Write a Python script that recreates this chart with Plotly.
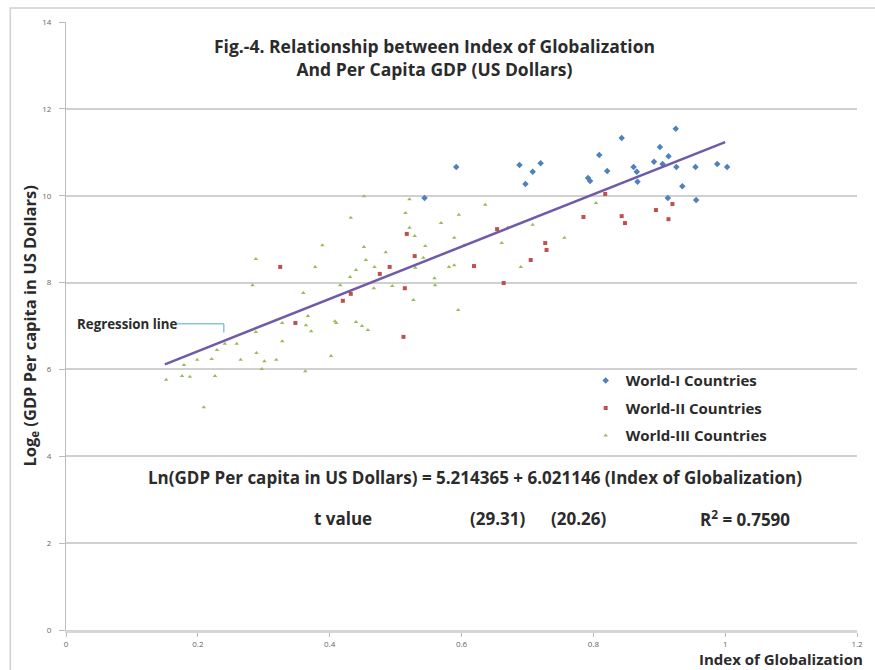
import plotly.graph_objects as go

# ---- data ----
w1_x = [0.544, 0.592, 0.688, 0.697, 0.708, 0.720, 0.792, 0.795, 0.809, 0.821, 0.843, 0.861, 0.866,
        0.867, 0.892, 0.901, 0.905, 0.914, 0.925, 0.926, 0.913, 0.935, 0.955, 0.956, 0.988, 1.003]
w1_y = [9.95, 10.66, 10.71, 10.27, 10.55, 10.75, 10.41, 10.34, 10.94, 10.57, 11.33, 10.66, 10.55,
        10.32, 10.78, 11.12, 10.73, 10.91, 11.54, 10.66, 9.95, 10.22, 10.66, 9.90, 10.73, 10.66]

w2_x = [0.325, 0.348, 0.420, 0.432, 0.476, 0.491, 0.514, 0.517, 0.529, 0.512, 0.619, 0.654, 0.664,
        0.705, 0.727, 0.729, 0.785, 0.818, 0.843, 0.848, 0.895, 0.914, 0.920]
w2_y = [8.36, 7.07, 7.58, 7.74, 8.20, 8.36, 7.87, 9.12, 8.61, 6.75, 8.38, 9.23, 7.99,
        8.52, 8.91, 8.75, 9.51, 10.04, 9.53, 9.37, 9.67, 9.46, 9.81]

w3_x = [0.152, 0.176, 0.188, 0.179, 0.199, 0.209, 0.221, 0.226, 0.229, 0.241, 0.259, 0.265, 0.283,
        0.288, 0.288, 0.289, 0.297, 0.301, 0.319, 0.328, 0.328, 0.360, 0.363, 0.367, 0.364, 0.372,
        0.378, 0.389, 0.402, 0.408, 0.410, 0.416, 0.431, 0.432, 0.440, 0.440, 0.449, 0.452, 0.452,
        0.455, 0.458, 0.467, 0.468, 0.485, 0.495, 0.515, 0.521, 0.521, 0.529, 0.527, 0.530, 0.542,
        0.545, 0.559, 0.560, 0.569, 0.581, 0.589, 0.589, 0.595, 0.596, 0.604, 0.636, 0.661, 0.670,
        0.690, 0.708, 0.756, 0.804]
w3_y = [5.76, 5.85, 5.83, 6.10, 6.22, 5.13, 6.24, 5.85, 6.45, 6.59, 6.59, 6.22, 7.94,
        8.54, 6.86, 6.38, 6.01, 6.19, 6.22, 7.07, 6.65, 7.76, 5.96, 7.23, 7.02, 6.88,
        8.36, 8.86, 6.31, 7.11, 7.07, 7.94, 8.13, 9.49, 8.29, 7.09, 7.00, 9.99, 8.82,
        8.52, 6.91, 7.87, 8.36, 8.70, 7.92, 9.60, 9.92, 9.26, 9.07, 7.60, 8.34, 8.57,
        8.84, 8.10, 7.94, 9.37, 8.36, 9.03, 8.40, 7.37, 9.56, 8.86, 9.79, 8.91, 9.26,
        8.36, 9.33, 9.03, 9.83]

series_names = ["World-I Countries", "World-II Countries", "World-III Countries"]
intercept = 5.214365
slope = 6.021146
reg_x = [0.15, 1.0]

x_ticks = [0, 0.2, 0.4, 0.6, 0.8, 1, 1.2]
x_tick_labels = ["0", "0.2", "0.4", "0.6", "0.8", "1", "1.2"]
y_ticks = [0, 2, 4, 6, 8, 10, 12, 14]

FONT = "Open Sans"
TXT = "#2b2b2b"

fig = go.Figure()
fig.add_trace(go.Scatter(x=w1_x, y=w1_y, mode="markers", name="<b>" + series_names[0] + "</b>",
                         legendgroup="a", marker=dict(symbol="diamond", size=5, color="#4F81BD")))
fig.add_trace(go.Scatter(x=w2_x, y=w2_y, mode="markers", name="<b>" + series_names[1] + "</b>",
                         legendgroup="b", marker=dict(symbol="square", size=4, color="#C0504D")))
fig.add_trace(go.Scatter(x=w3_x, y=w3_y, mode="markers", name="<b>" + series_names[2] + "</b>",
                         legendgroup="c", marker=dict(symbol="triangle-up", size=4, color="#9BBB59")))
fig.add_trace(go.Scatter(x=reg_x, y=[intercept + slope * v for v in reg_x], mode="lines",
                         showlegend=False, line=dict(color="#6F5BA8", width=2.5)))

ann = []
ann.append(dict(x=0.559, y=13.18, xref="x", yref="y", showarrow=False,
                text="<b>Fig.-4. Relationship between Index of Globalization<br>And Per Capita GDP (US Dollars)</b>",
                font=dict(family=FONT, size=17.5, color=TXT), align="center"))
ann.append(dict(x=-0.046, y=0.5, xref="paper", yref="paper", showarrow=False, textangle=-90,
                xanchor="center", yanchor="middle",
                text="<b>Log<sub>e</sub> (GDP Per capita in US Dollars)</b>",
                font=dict(family=FONT, size=16.5, color=TXT)))
ann.append(dict(x=1.01, y=-0.047, xref="paper", yref="paper", showarrow=False, xanchor="right",
                yanchor="middle",
                text="<b>Index of Globalization</b>", font=dict(family=FONT, size=15, color=TXT)))
ann.append(dict(x=0.62, y=3.52, xref="x", yref="y", showarrow=False,
                text="<b>Ln(GDP Per capita in US Dollars) = 5.214365 + 6.021146 (Index of Globalization)</b>",
                font=dict(family=FONT, size=17, color=TXT)))
for xt, t in [(0.42, "t value"), (0.655, "(29.31)"), (0.778, "(20.26)"), (1.03, "R<sup>2</sup> = 0.7590")]:
    ann.append(dict(x=xt, y=2.56, xref="x", yref="y", showarrow=False, text="<b>" + t + "</b>",
                    font=dict(family=FONT, size=17, color=TXT)))
ann.append(dict(x=0.013, y=7.05, xref="x", yref="y", showarrow=False, xanchor="left",
                text="<b>Regression line</b>", font=dict(family=FONT, size=13.3, color=TXT)))

shapes = [
    dict(type="line", xref="x", yref="y", x0=0.168, y0=7.05, x1=0.2395, y1=7.05,
         line=dict(color="#4BACC6", width=1)),
    dict(type="line", xref="x", yref="y", x0=0.2395, y0=7.05, x1=0.2395, y1=6.85,
         line=dict(color="#4BACC6", width=1)),
    dict(type="rect", xref="paper", yref="paper", x0=-0.0704, y0=-0.08, x1=1.03, y1=1.023,
         line=dict(color="#d0d0d0", width=1.5), layer="below"),
]

fig.update_layout(
    width=875, height=670,
    margin=dict(l=66, r=13, t=22, b=40),
    paper_bgcolor="white", plot_bgcolor="white",
    font=dict(family=FONT, color=TXT),
    annotations=ann, shapes=shapes,
    legend=dict(x=0.657, y=0.437, xanchor="left", yanchor="top", bgcolor="rgba(0,0,0,0)",
                font=dict(family=FONT, size=15, color=TXT), tracegroupgap=5),
    xaxis=dict(range=[0, 1.2], tickvals=x_ticks, ticktext=x_tick_labels, showgrid=False,
               zeroline=False, showline=True, linecolor="#d6d6d6", linewidth=3,
               ticks="outside", ticklen=4, tickcolor="#bcbcbc",
               tickfont=dict(size=8, color="#666")),
    yaxis=dict(range=[0, 14], tickvals=y_ticks, showgrid=True, gridcolor="#d0d0d0", gridwidth=1.5,
               zeroline=False, showline=True, linecolor="#bcbcbc", linewidth=1,
               ticks="outside", ticklen=6, tickcolor="#bcbcbc", ticklabelstandoff=6,
               tickfont=dict(size=8, color="#666")),
)

fig.write_html("out.html")
